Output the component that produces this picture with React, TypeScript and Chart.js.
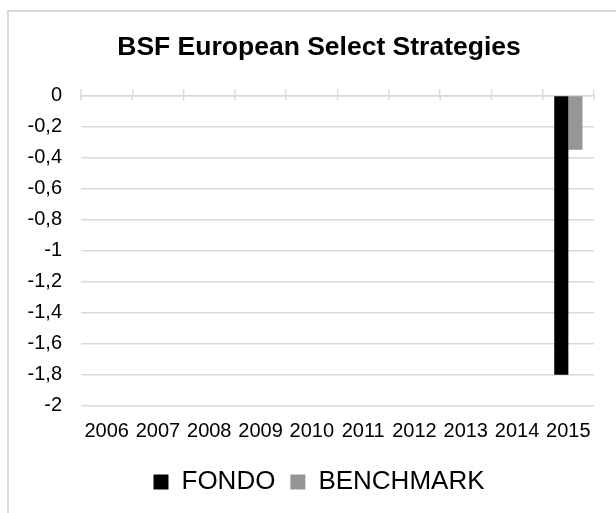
import React, { useEffect, useRef } from 'react';
import { Chart, registerables } from 'chart.js';

Chart.register(...registerables);

const TITLE = 'BSF European Select Strategies';
const YEARS = ['2006', '2007', '2008', '2009', '2010', '2011', '2012', '2013', '2014', '2015'];
const SERIES_NAMES = ['FONDO', 'BENCHMARK'];
const FONDO = [null, null, null, null, null, null, null, null, null, -1.8];
const BENCHMARK = [null, null, null, null, null, null, null, null, null, -0.35];
const Y_MIN = -2;
const Y_MAX = 0;
const Y_STEP = 0.2;

const GRID = '#d9d9d9';
const FONT = "'Liberation Sans', Arial, Helvetica, sans-serif";

const fmt = (v: number) => {
  const r = Math.round(v * 10) / 10;
  if (r === 0) return '0';
  return Number.isInteger(r) ? String(r) : r.toFixed(1).replace('.', ',');
};

const innerTicks = {
  id: 'innerTicks',
  afterDraw(chart: any) {
    const s = chart.scales.x2;
    const ctx = chart.ctx;
    const y = s.bottom;
    ctx.save();
    ctx.strokeStyle = GRID;
    ctx.lineWidth = 1.5;
    for (let i = 0; i <= YEARS.length; i++) {
      const x = s.getPixelForValue(i - 0.5);
      ctx.beginPath();
      ctx.moveTo(x, y);
      ctx.lineTo(x, y + 5);
      ctx.stroke();
    }
    ctx.restore();
  },
};

export default function App() {
  const ref = useRef<HTMLCanvasElement>(null);
  useEffect(() => {
    Chart.defaults.font.family = FONT;
    const chart = new Chart(ref.current!, {
      type: 'bar',
      data: {
        labels: YEARS,
        datasets: [
          {
            label: SERIES_NAMES[0],
            data: FONDO,
            backgroundColor: '#000000',
            borderWidth: 0,
            categoryPercentage: 0.55,
            barPercentage: 1,
          },
          {
            label: SERIES_NAMES[1],
            data: BENCHMARK,
            backgroundColor: '#969696',
            borderWidth: 0,
            categoryPercentage: 0.55,
            barPercentage: 1,
          },
        ],
      },
      options: {
        responsive: false,
        animation: false,
        devicePixelRatio: 1,
        layout: { padding: 0 },
        plugins: {
          title: {
            display: true,
            text: TITLE,
            color: '#000',
            font: { size: 26.5, weight: 'bold', family: FONT },
            padding: { top: 20, bottom: 25.7 },
          },
          legend: {
            position: 'bottom',
            labels: {
              color: '#000',
              font: { size: 26, family: FONT },
              boxWidth: 15,
              boxHeight: 15,
              padding: 15,
            },
          },
          tooltip: { enabled: false },
        },
        scales: {
          x: {
            position: 'bottom',
            grid: { display: false, drawTicks: false },
            border: { display: false },
            afterFit: (s: any) => {
              s.height = 48.3;
            },
            ticks: {
              color: '#000',
              font: { size: 20, family: FONT },
              padding: 14,
              maxRotation: 0,
              autoSkip: false,
            },
          },
          x2: {
            type: 'category',
            position: 'top',
            offset: true,
            grid: {
              offset: true,
              drawOnChartArea: false,
              drawTicks: true,
              tickLength: 6,
              color: GRID,
              lineWidth: 1.5,
            },
            border: { display: true, color: GRID, width: 1.5 },
            ticks: { display: false },
          },
          y: {
            min: Y_MIN,
            max: Y_MAX,
            afterFit: (s: any) => {
              s.width = 72;
            },
            grid: { color: GRID, lineWidth: 1.5, drawTicks: false },
            border: { display: false },
            ticks: {
              stepSize: Y_STEP,
              color: '#000',
              font: { size: 20, family: FONT },
              padding: 19,
              callback: (v: any) => fmt(Number(v)),
            },
          },
          yRight: {
            type: 'linear',
            position: 'right',
            grid: { display: false, drawTicks: false },
            border: { display: false },
            ticks: { display: false },
            afterFit: (s: any) => {
              s.width = 35;
            },
          },
        },
      },
      plugins: [innerTicks],
    } as any);
    return () => chart.destroy();
  }, []);

  return (
    <div
      style={{
        position: 'fixed',
        left: 7,
        top: 10,
        width: 622,
        height: 510,
        borderTop: `2px solid ${GRID}`,
        borderLeft: `2px solid ${GRID}`,
        background: '#fff',
      }}
    >
      <canvas ref={ref} width={620} height={493} style={{ display: 'block', width: 620, height: 493 }} />
    </div>
  );
}
